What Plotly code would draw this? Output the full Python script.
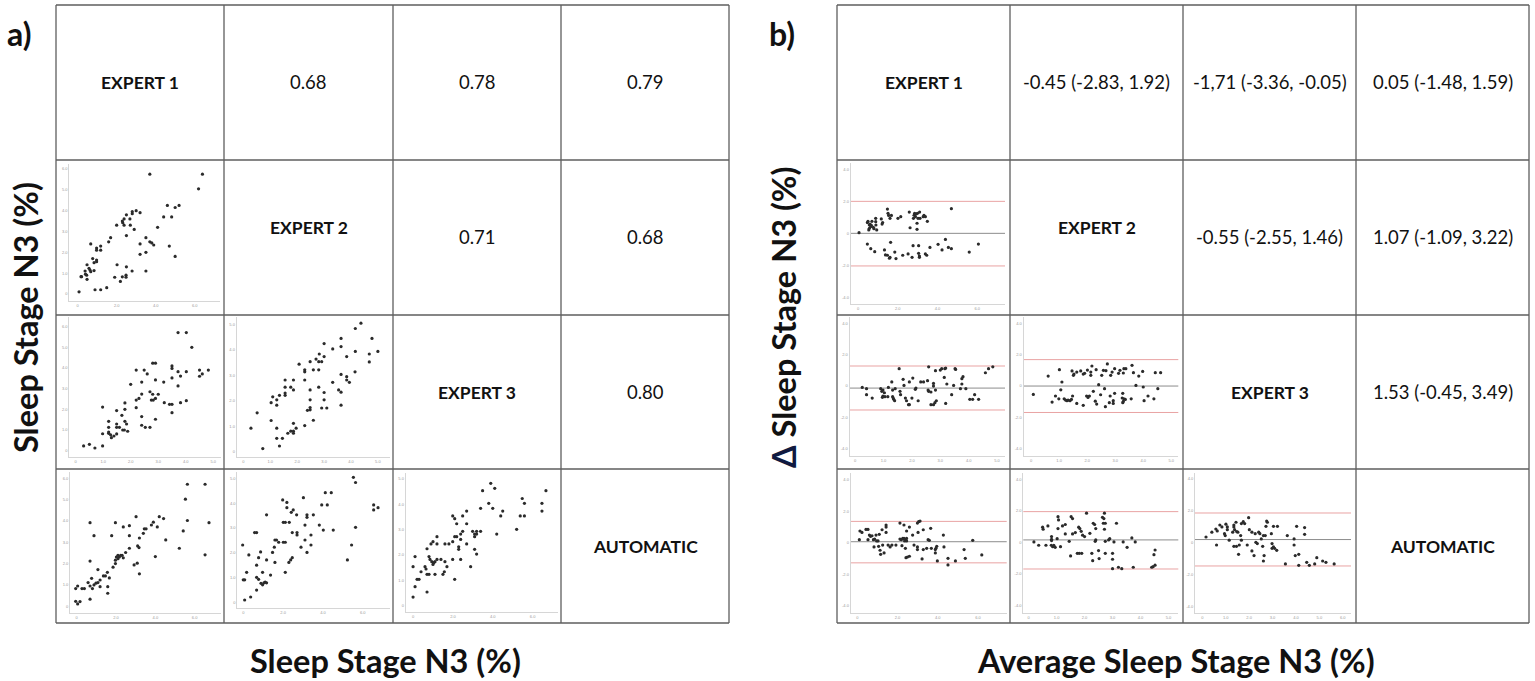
import plotly.graph_objects as go

W, H = 1535, 681

# ---------------- data ----------------
# scatter matrix a): (x, y) pairs per cell  (row, col)
A21 = [(0.07,0.1),(0.17,0.83),(0.2,0.83),(0.38,1.1),(0.4,0.95),(0.46,0.9),(0.48,0.7),(0.48,1.4),(0.58,1.23),(0.63,1.15),(0.67,1.07),(0.67,2.4),(0.77,1.7),(0.84,1.5),(0.89,0.2),(0.84,1.12),(0.97,2.2),(0.97,2.1),(0.97,1.63),(0.97,1.55),(1.18,2.3),(1.18,2.1),(1.18,0.2),(1.49,0.3),(1.59,2.5),(1.69,2.7),(1.9,0.8),(2.0,3.3),(2.02,1.4),(2.19,0.6),(2.29,0.82),(2.29,3.5),(2.31,3.42),(2.38,3.6),(2.38,3.3),(2.5,3.8),(2.5,2.8),(2.5,1.3),(2.48,0.9),(2.48,0.8),(2.68,3.6),(2.7,3.3),(2.79,1.1),(2.8,3.85),(2.8,3.95),(2.9,3.1),(3.0,4.0),(3.2,3.9),(3.2,2.4),(3.2,1.9),(3.5,2.7),(3.5,2.0),(3.5,1.1),(3.7,5.75),(3.7,2.5),(3.8,2.45),(3.9,2.35),(4.1,3.2),(4.41,3.7),(4.6,4.25),(4.7,2.3),(4.82,3.7),(5.0,4.15),(5.0,1.8),(5.2,4.25),(6.2,5.05),(6.4,5.75)]
A31 = [(0.29,0.23),(0.5,0.31),(0.7,0.13),(0.98,2.11),(0.98,0.82),(0.98,0.23),(1.2,1.42),(1.2,1.13),(1.2,0.9),(1.2,0.84),(1.27,0.77),(1.3,0.63),(1.39,0.71),(1.49,1.94),(1.49,1.29),(1.49,1.13),(1.49,0.81),(1.59,1.13),(1.68,1.71),(1.71,1.0),(1.77,1.0),(1.79,2.0),(1.79,2.31),(1.79,1.42),(1.85,1.29),(1.89,0.94),(2.0,3.21),(2.2,3.9),(2.2,2.45),(2.2,2.08),(2.3,2.53),(2.4,2.74),(2.4,3.32),(2.4,1.65),(2.4,1.23),(2.49,3.9),(2.53,1.13),(2.6,3.71),(2.7,2.85),(2.7,1.13),(2.75,2.45),(2.8,2.73),(2.82,2.45),(2.8,4.23),(2.9,4.23),(2.9,3.42),(2.9,2.53),(2.9,1.52),(3.0,2.73),(3.2,3.32),(3.22,2.32),(3.41,2.24),(3.5,2.24),(3.5,3.52),(3.5,4.1),(3.5,3.98),(3.5,1.84),(3.72,3.13),(3.72,5.71),(3.72,3.82),(3.81,2.32),(3.81,3.61),(4.02,5.71),(4.02,3.82),(4.02,2.42),(4.22,5.0),(4.5,3.9),(4.5,3.6),(4.6,3.71),(4.82,3.9)]
A32 = [(0.28,0.92),(0.51,1.52),(0.72,0.12),(1.03,1.92),(1.03,1.22),(1.09,2.15),(1.24,2.03),(1.24,1.82),(1.24,0.92),(1.24,0.52),(1.34,2.21),(1.34,0.22),(1.45,0.52),(1.55,2.81),(1.55,2.53),(1.55,2.3),(1.55,2.21),(1.65,0.72),(1.76,2.53),(1.76,0.8),(1.86,2.81),(1.86,2.42),(1.86,1.11),(1.86,0.8),(1.86,0.72),(1.96,0.92),(2.07,3.43),(2.28,2.81),(2.28,3.21),(2.28,3.13),(2.28,1.02),(2.38,1.62),(2.48,3.53),(2.48,2.42),(2.48,2.03),(2.48,1.73),(2.48,1.64),(2.6,3.21),(2.6,1.23),(2.7,3.63),(2.8,3.21),(2.8,3.53),(2.8,2.53),(2.82,3.83),(2.91,3.53),(2.91,1.71),(3.0,4.24),(3.0,3.73),(3.0,2.32),(3.0,2.03),(3.1,1.71),(3.32,2.72),(3.32,4.03),(3.54,2.42),(3.63,4.44),(3.63,4.12),(3.63,3.03),(3.63,2.33),(3.63,1.82),(3.84,3.73),(3.84,2.94),(3.84,2.81),(3.94,2.72),(4.15,3.13),(4.16,3.93),(4.16,4.83),(4.37,5.04),(4.68,3.52),(4.68,3.83),(4.78,4.44),(5.0,3.93)]
A41 = [(-0.05,0.83),(0.05,0.95),(-0.05,0.23),(0.05,0.11),(0.17,0.22),(0.27,0.83),(0.39,0.83),(0.58,1.11),(0.68,3.92),(0.68,2.12),(0.68,0.95),(0.68,0.33),(0.76,1.31),(0.8,0.83),(0.88,3.31),(0.88,1.0),(0.98,1.08),(1.08,1.11),(1.08,1.72),(1.19,1.23),(1.19,0.92),(1.36,1.42),(1.46,1.42),(1.56,1.59),(1.58,0.92),(1.58,0.61),(1.66,1.33),(1.78,3.31),(1.85,1.83),(1.97,2.0),(1.97,2.16),(2.02,2.31),(2.1,2.39),(2.17,2.31),(2.24,2.39),(2.31,2.39),(2.37,2.27),(2.1,2.23),(1.97,3.92),(2.37,3.72),(2.49,2.52),(2.68,3.78),(2.68,3.31),(2.68,2.72),(2.92,1.94),(3.02,4.2),(3.08,2.02),(3.1,2.83),(3.17,2.75),(3.19,3.2),(3.19,1.52),(3.39,3.42),(3.44,3.63),(3.53,3.63),(3.8,3.81),(3.9,3.94),(4.0,2.33),(4.1,3.72),(4.2,4.2),(4.42,4.11),(4.53,3.11),(5.22,2.72),(5.42,3.53),(5.53,5.02),(5.63,5.72),(5.63,4.02),(6.53,5.72),(6.53,2.41),(6.73,3.92)]
A42 = [(-0.03,2.32),(0.0,0.92),(0.07,0.92),(0.07,0.11),(0.17,1.22),(0.28,1.92),(0.37,0.23),(0.57,2.82),(0.67,2.82),(0.67,1.51),(0.67,1.02),(0.67,0.51),(0.77,1.81),(0.77,0.94),(0.87,2.04),(0.89,0.78),(0.97,0.72),(1.04,0.8),(1.1,0.83),(1.17,0.8),(0.97,1.22),(1.17,3.53),(1.17,1.72),(1.37,1.11),(1.47,2.02),(1.56,2.23),(1.59,2.52),(1.67,2.52),(1.59,1.62),(1.78,2.43),(1.98,4.13),(2.01,3.23),(2.11,3.23),(2.01,2.43),(2.11,2.43),(2.11,1.22),(2.19,4.03),(2.19,3.82),(2.29,1.62),(2.38,1.72),(2.46,1.81),(2.31,3.23),(2.41,3.63),(2.46,2.82),(2.51,3.73),(2.68,3.53),(2.7,2.82),(2.7,2.72),(2.9,2.23),(3.02,4.22),(3.1,3.12),(3.1,2.52),(3.2,3.53),(3.2,3.43),(3.2,2.02),(3.4,2.72),(3.4,2.32),(3.52,3.53),(3.82,3.12),(3.94,3.93),(4.02,2.92),(4.12,4.42),(4.42,4.42),(4.22,3.93),(4.52,2.92),(5.23,1.72),(5.44,2.32),(5.53,5.04),(5.64,4.83),(5.64,3.03),(6.55,3.93),(6.55,3.73),(6.77,3.82)]
A43 = [(0.0,0.33),(0.0,1.53),(0.1,1.93),(0.1,0.74),(0.2,1.03),(0.3,1.03),(0.4,1.33),(0.6,1.53),(0.65,1.44),(0.7,0.53),(0.7,2.24),(0.7,1.23),(0.8,1.23),(0.8,1.93),(0.85,1.82),(0.9,2.43),(1.0,2.52),(0.94,1.73),(1.0,1.62),(1.04,1.69),(1.1,1.73),(1.1,1.23),(1.2,2.72),(1.2,2.43),(1.2,1.82),(1.4,1.82),(1.5,1.23),(1.57,1.33),(1.6,1.73),(1.7,1.53),(1.6,2.43),(1.8,2.43),(1.99,3.54),(2.09,3.43),(1.99,2.52),(1.99,1.82),(2.09,1.03),(2.09,2.72),(2.19,2.72),(2.19,3.23),(2.29,2.32),(2.29,2.22),(2.39,2.82),(2.39,2.61),(2.39,1.82),(2.49,3.54),(2.49,2.93),(2.69,3.73),(2.69,3.23),(2.69,2.43),(2.89,1.53),(2.99,2.93),(3.09,2.82),(3.19,2.93),(3.19,2.82),(3.09,2.72),(3.09,2.22),(3.19,2.03),(3.39,2.93),(3.39,3.84),(3.49,4.54),(3.8,4.04),(3.9,4.83),(4.0,3.84),(4.1,4.63),(4.2,2.82),(4.4,3.54),(4.5,3.73),(5.2,3.01),(5.38,3.54),(5.48,4.23),(5.59,4.04),(5.59,3.54),(6.47,4.04),(6.47,3.73),(6.67,4.54)]

# Bland-Altman matrix b): (average, difference) pairs per cell
B21 = [(0.05,0.04),(0.47,0.67),(0.5,0.75),(0.57,0.52),(0.6,0.58),(0.64,0.42),(0.67,0.5),(0.54,0.21),(0.57,0.31),(0.7,0.75),(0.77,0.38),(0.8,0.29),(0.89,0.94),(0.89,0.73),(0.9,0.52),(0.94,0.21),(1.17,0.9),(1.21,0.58),(1.24,0.67),(1.48,1.52),(1.51,1.25),(1.54,1.12),(1.61,0.94),(1.68,1.12),(2.01,0.94),(2.15,1.04),(2.58,1.33),(2.62,0.35),(2.79,0.94),(2.82,1.13),(2.85,1.25),(2.89,1.04),(2.92,1.21),(2.99,1.25),(3.02,0.94),(2.97,0.63),(2.97,0.25),(3.1,1.33),(3.12,0.94),(3.28,1.04),(3.32,1.12),(3.39,1.04),(3.49,0.75),(4.7,1.54),(0.47,-0.67),(0.64,-0.96),(0.84,-1.15),(1.33,-1.04),(1.38,-1.35),(1.48,-1.37),(1.58,-1.56),(1.61,-1.5),(1.64,-0.56),(1.85,-1.17),(1.91,-1.58),(2.25,-1.37),(2.52,-1.29),(2.72,-1.5),(2.77,-0.77),(3.05,-0.77),(3.05,-1.25),(3.09,-1.42),(3.09,-1.5),(3.39,-1.29),(3.46,-1.37),(3.62,-0.88),(4.03,-0.69),(4.23,-1.04),(4.4,-0.38),(4.55,-0.88),(4.7,-0.96),(5.6,-1.17),(6.06,-0.67)]
B31 = [(0.25,-0.09),(0.4,-0.17),(0.4,-0.55),(0.6,-0.77),(0.9,-0.17),(0.94,-0.34),(0.98,-0.26),(0.98,-0.64),(0.96,-0.72),(1.03,-0.43),(1.05,-0.68),(1.15,-0.68),(1.17,-0.09),(1.29,0.26),(1.32,-0.26),(1.32,-0.68),(1.34,-0.77),(1.36,-0.85),(1.39,-0.94),(1.41,-0.17),(1.55,1.11),(1.58,-0.34),(1.6,-0.55),(1.69,0.43),(1.72,0.04),(1.77,-0.77),(1.81,-0.94),(1.88,-1.19),(1.91,-1.19),(1.91,0.26),(2.03,0.51),(2.12,-0.21),(2.14,-0.13),(2.0,-0.77),(2.22,-0.94),(2.31,0.26),(2.41,0.26),(2.55,0.34),(2.57,-0.26),(2.59,-0.34),(2.67,-0.38),(2.59,1.23),(2.67,-1.19),(2.76,-1.19),(2.81,-1.06),(2.86,-0.94),(2.76,0.17),(2.76,0.0),(2.83,0.98),(2.83,-0.26),(3.0,1.02),(3.05,1.11),(3.16,1.11),(3.19,1.15),(3.14,0.55),(3.19,-1.11),(3.23,0.13),(3.4,-0.55),(3.47,0.04),(3.52,1.11),(3.54,1.06),(3.71,-0.17),(3.76,0.13),(3.76,0.47),(3.8,0.6),(3.9,-0.17),(4.04,-0.85),(4.14,-0.85),(4.35,-0.85),(4.21,-0.55),(4.59,0.85),(4.7,1.11),(4.85,1.23)]
B32 = [(0.08,-0.54),(0.61,0.64),(0.75,-1.03),(0.87,-0.64),(0.99,-0.82),(1.01,1.05),(1.06,-0.24),(1.1,0.26),(1.18,-0.82),(1.23,-0.9),(1.28,-0.94),(1.32,-0.9),(1.39,-0.94),(1.44,-0.86),(1.46,0.97),(1.51,0.69),(1.53,0.77),(1.48,-0.64),(1.63,0.9),(1.63,-1.12),(1.77,0.97),(1.86,0.77),(1.91,0.82),(2.01,1.03),(1.86,-1.24),(1.98,-0.64),(2.03,-0.73),(2.08,-0.64),(2.13,0.9),(2.13,0.69),(2.17,1.29),(2.22,-0.34),(2.29,-0.97),(2.34,-1.16),(2.32,1.05),(2.41,0.09),(2.48,-0.56),(2.52,0.69),(2.58,1.01),(2.62,-0.17),(2.65,-1.33),(2.67,0.99),(2.72,1.42),(2.79,-1.07),(2.82,-0.64),(2.84,0.69),(2.89,0.9),(2.93,-1.12),(2.93,-0.94),(2.98,1.12),(2.98,-0.47),(3.12,0.82),(3.17,1.01),(3.25,-0.77),(3.29,-0.99),(3.31,-0.82),(3.36,-0.86),(3.27,-1.07),(3.27,-0.47),(3.31,1.12),(3.38,1.12),(3.29,0.84),(3.57,-0.82),(3.6,1.33),(3.65,0.86),(3.74,0.04),(3.84,0.64),(3.98,0.94),(4.0,-0.06),(4.03,-0.94),(4.17,-0.64),(4.38,-0.82),(4.43,0.86),(4.52,-0.17),(4.62,0.86)]
B41 = [(0.1,0.19),(0.13,0.74),(0.23,0.65),(0.43,0.84),(0.53,0.84),(0.53,0.19),(0.6,0.48),(0.66,0.4),(0.73,0.44),(0.8,0.19),(0.86,0.23),(0.83,-0.27),(0.93,0.48),(0.96,0.11),(1.03,0.11),(1.06,-0.23),(1.13,-0.48),(1.16,-0.74),(1.09,0.53),(1.23,0.82),(1.26,-0.15),(1.33,-0.65),(1.43,1.12),(1.43,0.99),(1.43,0.65),(1.53,-0.15),(1.63,-0.27),(1.72,-0.15),(1.92,-0.15),(2.12,1.24),(2.12,0.23),(2.19,0.19),(2.26,0.27),(2.22,-0.19),(2.32,1.12),(2.32,0.27),(2.39,0.19),(2.45,0.27),(2.35,0.11),(2.45,0.11),(2.39,-0.36),(2.42,-0.95),(2.49,-0.91),(2.45,0.74),(2.59,0.99),(2.59,-0.86),(2.75,0.48),(2.82,-0.15),(2.99,1.24),(3.05,1.33),(3.12,1.37),(3.02,0.65),(2.99,-0.27),(2.99,-0.44),(3.22,-1.03),(3.28,0.82),(3.28,-0.44),(3.45,-0.36),(3.52,0.19),(3.58,0.15),(3.65,0.91),(3.68,-0.36),(3.88,-0.44),(3.91,-0.36),(3.88,-0.65),(3.95,-0.23),(3.98,-1.16),(4.28,0.48),(4.31,-0.27),(4.51,-0.99),(4.51,-1.41),(4.88,-1.16),(5.31,-0.44),(5.37,-0.99),(5.74,0.15),(6.19,-0.78)]
B42 = [(0.19,0.02),(0.36,-0.19),(0.5,0.96),(0.52,0.83),(0.62,-0.19),(0.69,1.04),(0.82,0.36),(0.82,0.19),(0.82,0.11),(0.81,-0.19),(0.86,-0.28),(0.9,-0.19),(0.95,-0.32),(1.02,0.23),(1.05,1.63),(1.07,1.42),(1.05,0.87),(1.14,-0.28),(1.21,1.04),(1.31,1.13),(1.31,0.53),(1.45,0.06),(1.5,-0.87),(1.52,1.63),(1.57,1.51),(1.57,0.53),(1.67,0.62),(1.74,-0.7),(1.81,-0.7),(1.9,-0.7),(1.79,0.96),(1.83,0.87),(1.88,0.7),(1.93,0.45),(2.0,0.36),(2.07,1.85),(2.19,0.57),(2.26,-0.7),(2.29,-1.17),(2.31,1.21),(2.36,1.13),(2.38,0.06),(2.4,0.15),(2.4,0.87),(2.5,-0.53),(2.52,-1.04),(2.64,1.59),(2.69,1.51),(2.67,1.21),(2.74,1.21),(2.71,1.85),(2.71,0.83),(2.74,0.06),(2.74,-0.7),(2.86,0.15),(2.9,0.23),(3.0,-0.7),(3.0,-1.08),(3.0,-1.68),(3.05,0.02),(3.14,1.21),(3.21,-1.59),(3.33,-1.68),(3.38,0.02),(3.52,-0.32),(3.69,0.28),(3.74,-1.59),(3.81,0.02),(4.4,-1.59),(4.45,-1.55),(4.48,-0.79),(4.52,-0.49),(4.52,-1.46)]
B43 = [(0.16,0.33),(0.41,0.63),(0.58,0.83),(0.64,0.71),(0.61,-0.17),(0.75,1.08),(0.84,0.96),(0.95,0.54),(0.98,0.42),(1.01,1.13),(1.07,0.96),(1.07,0.79),(1.15,0.13),(1.3,0.63),(1.35,1.08),(1.35,0.96),(1.38,0.79),(1.35,-0.25),(1.46,-0.25),(1.44,1.25),(1.47,0.67),(1.52,0.63),(1.55,-0.75),(1.58,-0.17),(1.64,0.42),(1.67,1.17),(1.67,0.13),(1.75,1.29),(1.81,1.17),(1.92,-0.17),(1.98,1.54),(2.01,0.79),(2.12,0.63),(2.12,-0.54),(2.21,-0.83),(2.26,0.54),(2.29,0.0),(2.35,-0.08),(2.41,0.63),(2.46,0.54),(2.52,0.21),(2.58,-0.25),(2.61,0.42),(2.69,0.42),(2.64,-0.83),(2.61,-1.17),(2.72,1.0),(2.75,1.33),(2.78,1.25),(2.95,0.54),(2.98,-0.08),(2.98,-0.38),(3.04,-0.29),(3.09,-0.38),(3.04,1.0),(3.18,-0.5),(3.21,1.0),(3.55,-1.35),(3.63,0.42),(3.92,0.21),(3.92,-0.17),(3.97,-0.83),(4.03,1.0),(4.12,-0.75),(4.12,-1.44),(4.37,0.92),(4.37,0.5),(4.46,-1.25),(4.57,-1.44),(4.8,-1.35),(4.89,-0.96),(5.14,-1.17),(5.28,-1.25),(5.63,-1.35)]

# Bland-Altman reference lines (as drawn) for B21, B31, B32, B41, B42, B43
BA_MEAN  = [0.0, -0.13, 0.0, 0.06, 0.15, 0.17]
BA_UPPER = [2.0, 1.28, 1.7, 1.35, 1.95, 1.83]
BA_LOWER = [-2.04, -1.53, -1.7, -1.28, -1.7, -1.48]

# table texts
NAMES = ["EXPERT 1", "EXPERT 2", "EXPERT 3", "AUTOMATIC"]
CORR = {(0, 1): "0.68", (0, 2): "0.78", (0, 3): "0.79",
        (1, 2): "0.71", (1, 3): "0.68", (2, 3): "0.80"}
BIAS = {(0, 1): "-0.45 (-2.83, 1.92)", (0, 2): "-1,71 (-3.36, -0.05)", (0, 3): "0.05 (-1.48, 1.59)",
        (1, 2): "-0.55 (-2.55, 1.46)", (1, 3): "1.07 (-1.09, 3.22)", (2, 3): "1.53 (-0.45, 3.49)"}

# ---------------- geometry (pixels) ----------------
LX = [56, 224, 393, 561, 729]
RX = [837, 1010, 1183, 1356, 1529]
GY = [5, 160, 315, 469, 623]

def px(x):
    return x / W

def py(y):
    return 1 - y / H

def ticktext(vals):
    return ["0" if v == 0 else f"{v:.1f}" for v in vals]

T01 = [0, 1, 2, 3, 4, 5]
T02 = [0, 2, 4, 6]
T06 = [0, 1, 2, 3, 4, 5, 6]
TBA = [-4, -2, 0, 2, 4]

# (data, x-px domain, y-px domain (top,bottom), xrange, yrange, xticks, yticks, ba index)
SUBPLOTS = [
    (A21, (69.3, 220), (164, 301), (-0.43, 7.3), (-0.34, 6.24), T02, T06, None),
    (A31, (69.3, 221), (317.3, 456.7), (-0.23, 5.28), (-0.29, 6.45), T01, T06, None),
    (A32, (236.7, 390), (317.3, 456.7), (-0.25, 5.45), (-0.2, 5.27), T01, T01, None),
    (A41, (70, 221), (472.3, 613.3), (-0.34, 7.34), (-0.33, 6.28), T02, T06, None),
    (A42, (237.3, 390), (472.3, 607.7), (-0.3, 7.37), (-0.2, 5.24), T02, T01, None),
    (A43, (405.7, 557.7), (472.7, 611.7), (-0.37, 7.26), (-0.25, 5.25), T02, T01, None),
    (B21, (850.7, 1005), (163.3, 304), (-0.37, 7.4), (-4.42, 4.38), T02, TBA, 0),
    (B31, (849.5, 1005), (316.7, 455.7), (-0.2, 5.28), (-4.45, 4.43), T01, TBA, 1),
    (B32, (1023.5, 1178.3), (316.7, 455.7), (-0.27, 5.25), (-4.48, 4.46), T01, TBA, 2),
    (B41, (850.7, 1006.7), (473.3, 613.3), (-0.33, 7.43), (-4.48, 4.4), T02, TBA, 3),
    (B42, (1023.3, 1178.3), (473.3, 613.3), (-0.19, 5.35), (-4.52, 4.39), T01, TBA, 4),
    (B43, (1195, 1351), (473.3, 612.7), (-0.31, 6.35), (-4.4, 4.31), T06, TBA, 5),
]

fig = go.Figure()
layout = {}
shapes = []
annotations = []

TICKFONT = dict(family="Liberation Sans", size=4, color="#9a9a9a")
AXLINE = "#d6d6d6"

for i, (pts, xd, yd, xr, yr, xt, yt, ba) in enumerate(SUBPLOTS, start=1):
    sx = "" if i == 1 else str(i)
    xs = [p[0] for p in pts]
    ys = [p[1] for p in pts]
    fig.add_trace(go.Scatter(
        x=xs, y=ys, mode="markers", xaxis="x" + sx, yaxis="y" + sx,
        marker=dict(size=3.2, color="#2b2b2b"), showlegend=False, hoverinfo="skip"))
    layout["xaxis" + sx] = dict(
        domain=[px(xd[0]), px(xd[1])], range=list(xr), anchor="y" + sx,
        showline=True, linecolor=AXLINE, linewidth=1, showgrid=False, zeroline=False,
        tickvals=xt, ticktext=ticktext(xt), tickfont=TICKFONT, ticks="", fixedrange=True)
    layout["yaxis" + sx] = dict(
        domain=[py(yd[1]), py(yd[0])], range=list(yr), anchor="x" + sx,
        showline=True, linecolor=AXLINE, linewidth=1, showgrid=False, zeroline=False,
        tickvals=yt, ticktext=ticktext(yt), tickfont=TICKFONT, ticks="", fixedrange=True)
    if ba is not None:
        for level, col in ((BA_UPPER[ba], "#e9a3a3"), (BA_LOWER[ba], "#e9a3a3"), (BA_MEAN[ba], "#8c8c8c")):
            shapes.append(dict(type="line", xref="x" + sx + " domain", yref="y" + sx,
                               x0=0, x1=1, y0=level, y1=level,
                               line=dict(color=col, width=1), layer="below"))

# grid of both tables
GRID = "#5e5e5e"
for cols in (LX, RX):
    for x in cols:
        shapes.append(dict(type="line", xref="paper", yref="paper", x0=px(x), x1=px(x),
                           y0=py(GY[0]), y1=py(GY[-1]), line=dict(color=GRID, width=1.3)))
    for y in GY:
        shapes.append(dict(type="line", xref="paper", yref="paper", x0=px(cols[0]), x1=px(cols[-1]),
                           y0=py(y), y1=py(y), line=dict(color=GRID, width=1.3)))

FONT = "Lato"

def cell_text(cols, r, c, text, bold, yoff=0):
    xc = (cols[c] + cols[c + 1]) / 2
    yc = (GY[r] + GY[r + 1]) / 2 + yoff
    annotations.append(dict(
        x=px(xc), y=py(yc), xref="paper", yref="paper", showarrow=False,
        text=f"<b>{text}</b>" if bold else text,
        font=dict(family=FONT, size=17.5 if bold else 18.5, color="#111111"),
        xanchor="center", yanchor="middle"))

for cols, vals in ((LX, CORR), (RX, BIAS)):
    for k, name in enumerate(NAMES):
        cell_text(cols, k, k, name, True, yoff=-10 if k == 1 else 0)
    for (r, c), t in vals.items():
        cell_text(cols, r, c, t, False)

# panel letters and axis titles
TITLE = dict(family=FONT, size=32.5, color="#111111")
annotations += [
    dict(x=px(19), y=py(33), xref="paper", yref="paper", showarrow=False, text="<b>a)</b>",
         font=dict(family=FONT, size=32, color="#111111"), xanchor="center", yanchor="middle"),
    dict(x=px(782), y=py(33), xref="paper", yref="paper", showarrow=False, text="<b>b)</b>",
         font=dict(family=FONT, size=32, color="#111111"), xanchor="center", yanchor="middle"),
    dict(x=px(385), y=py(660), xref="paper", yref="paper", showarrow=False,
         text="<b>Sleep Stage N3 (%)</b>", font=TITLE, xanchor="center", yanchor="middle"),
    dict(x=px(1176), y=py(660), xref="paper", yref="paper", showarrow=False,
         text="<b>Average Sleep Stage N3 (%)</b>", font=TITLE, xanchor="center", yanchor="middle"),
    dict(x=px(25), y=py(318), xref="paper", yref="paper", showarrow=False, textangle=-90,
         text="<b>Sleep Stage N3 (%)</b>", font=TITLE, xanchor="center", yanchor="middle"),
    dict(x=px(783), y=py(318), xref="paper", yref="paper", showarrow=False, textangle=-90,
         text="<b><span style='color:#101a40'>Δ</span> Sleep Stage N3 (%)</b>", font=TITLE,
         xanchor="center", yanchor="middle"),
]

fig.update_layout(
    width=W, height=H, autosize=False,
    margin=dict(l=0, r=0, t=0, b=0),
    paper_bgcolor="white", plot_bgcolor="white",
    shapes=shapes, annotations=annotations, showlegend=False,
    **layout)

fig.write_html("out.html", config={"displayModeBar": False},
               post_script="document.body.style.margin='0px';document.body.style.padding='0px';document.body.style.overflow='hidden';")
